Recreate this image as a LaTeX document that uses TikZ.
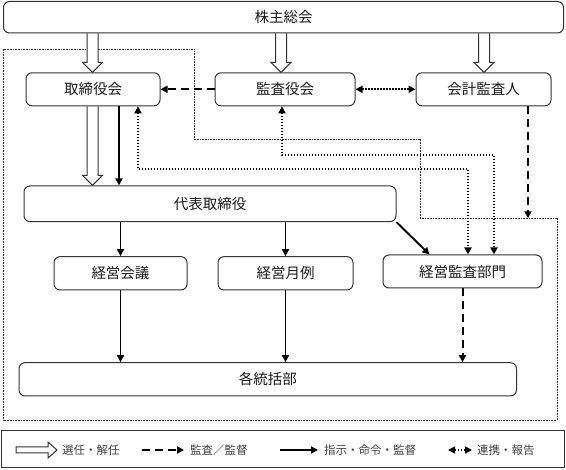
\documentclass[tikz,border=0pt]{standalone}
\usepackage{fontspec}
\newfontfamily\jp{Noto Sans CJK JP}
\usetikzlibrary{arrows.meta,calc,backgrounds}
\begin{document}
\begin{tikzpicture}[x=1pt,y=-1pt,
 box/.style={draw=black!80, line width=1pt, rounded corners=6pt, fill=white, text=black!90,
   font=\jp\fontsize{14.5}{16}\selectfont, inner sep=0pt},
 tip/.style={-{Triangle[length=7pt,width=7pt]}},
 solidc/.style={line width=1.9pt, tip},
 dashc/.style={line width=2pt, dash pattern=on 8pt off 5pt, tip},
 dotc/.style={line width=2.1pt, dash pattern=on 1.6pt off 1.4pt,
   {Triangle[length=7pt,width=7pt]}-{Triangle[length=7pt,width=7pt]}},
 bound/.style={line width=0.8pt, dash pattern=on 0.8pt off 0.8pt, draw=black!80},
 hollow/.style={draw=black!80, line width=1pt, fill=white},
 legtext/.style={font=\jp\fontsize{11.5}{13}\selectfont, text=black!75, anchor=west, inner sep=0pt}
]
\useasboundingbox (0,0) rectangle (566,470);

% nodes
\node[box, minimum width=560pt, minimum height=31.5pt] (kabu) at (283.5,17.25) {株主総会};
\node[box, minimum width=134pt, minimum height=33pt] (tori) at (93,89.3) {取締役会};
\node[box, minimum width=140pt, minimum height=33pt] (kansa) at (285,89.3) {監査役会};
\node[box, minimum width=135pt, minimum height=33pt] (kaikei) at (483.5,89.3) {会計監査人};
\node[box, minimum width=372pt, minimum height=35.7pt] (daihyo) at (210,203.8) {代表取締役};
\node[box, minimum width=133pt, minimum height=33.3pt] (keiei) at (120.5,273.3) {経営会議};
\node[box, minimum width=135pt, minimum height=33.3pt] (getsu) at (285.5,273.3) {経営月例};
\node[box, minimum width=159pt, minimum height=33pt] (kbu) at (462.5,271.5) {経営監査部門};
\node[box, minimum width=497.5pt, minimum height=33.3pt] (kaku) at (267.75,379.3) {各統括部};

\newcommand\hollowdn[3]{%
 \draw[hollow] let \p1=(#2.south), \p2=(#3.north) in
 (#1pt-5.5pt,\y1) -- (#1pt-5.5pt,\y2+10pt) -- (#1pt-10pt,\y2+10pt) -- (#1pt,\y2)
 -- (#1pt+10pt,\y2+10pt) -- (#1pt+5.5pt,\y2+10pt) -- (#1pt+5.5pt,\y1);}

\begin{pgfonlayer}{background}
% dotted boundary
\coordinate (b1) at (3.5,49.5);
\coordinate (b2) at (194,49.5);
\coordinate (b3) at (194,139.3);
\coordinate (b4) at (420,139.3);
\coordinate (b5) at (420,218.3);
\coordinate (b6) at (557,218.3);
\coordinate (b7) at (557,420);
\coordinate (b8) at (3.5,420);
\draw[bound] (b1) -- (b2) -- (b3) -- (b4) -- (b5) -- (b6) -- (b7) -- (b8) -- cycle;
% hollow arrows
\hollowdn{92.5}{kabu}{tori}
\hollowdn{281}{kabu}{kansa}
\hollowdn{484}{kabu}{kaikei}
\hollowdn{92.5}{tori}{daihyo}
\end{pgfonlayer}

% dashed
\draw[dashc] (kansa.west) -- (tori.east);
\draw[dashc] (kaikei.south -| 528,0) -- (528,218.3);
\draw[dashc] (kbu.south) -- (kbu.south |- kaku.north);

% dotted double arrows
\draw[dotc] (kansa.east) -- (kaikei.west);
\draw[dotc] (tori.south -| 138,0) -- (138,169.3) -- (468,169.3) -- (kbu.north -| 468,0);
\draw[dotc] (kansa.south -| 282,0) -- (282,155) -- (494,155) -- (kbu.north -| 494,0);

% solid
\draw[solidc] (tori.south -| 119,0) -- (daihyo.north -| 119,0);
\draw[solidc] (daihyo.south -| keiei.north) -- (keiei.north);
\draw[solidc] (daihyo.south -| getsu.north) -- (getsu.north);
\draw[solidc] (daihyo.south east) -- ($(kbu.north)+(-33,0)$);
\draw[solidc] (keiei.south) -- (keiei.south |- kaku.north);
\draw[solidc] (getsu.south) -- (getsu.south |- kaku.north);

% legend
\node[draw=black!80, line width=1pt, minimum width=563pt, minimum height=37pt, inner sep=0pt] (legend) at (283,449.5) {};
\draw[hollow] (16,447) -- (48,447) -- (48,442) -- (57,450) -- (48,458) -- (48,453) -- (16,453) -- cycle;
\node[legtext] (l1) at (62,450) {選任・解任};
\coordinate (d1) at (142,450); \coordinate (d2) at (184,450);
\draw[dashc, line width=2.4pt] (d1) -- (d2);
\node[legtext] (l2) at (190,450) {監査／監督};
\coordinate (s1) at (280,450); \coordinate (s2) at (318,450);
\draw[solidc] (s1) -- (s2);
\node[legtext] (l3) at (324,450) {指示・命令・監督};
\coordinate (t1) at (448,450); \coordinate (t2) at (472,450);
\draw[dotc, line width=1.6pt] (t1) -- (t2);
\node[legtext] (l4) at (477,450) {連携・報告};
\end{tikzpicture}
\end{document}
